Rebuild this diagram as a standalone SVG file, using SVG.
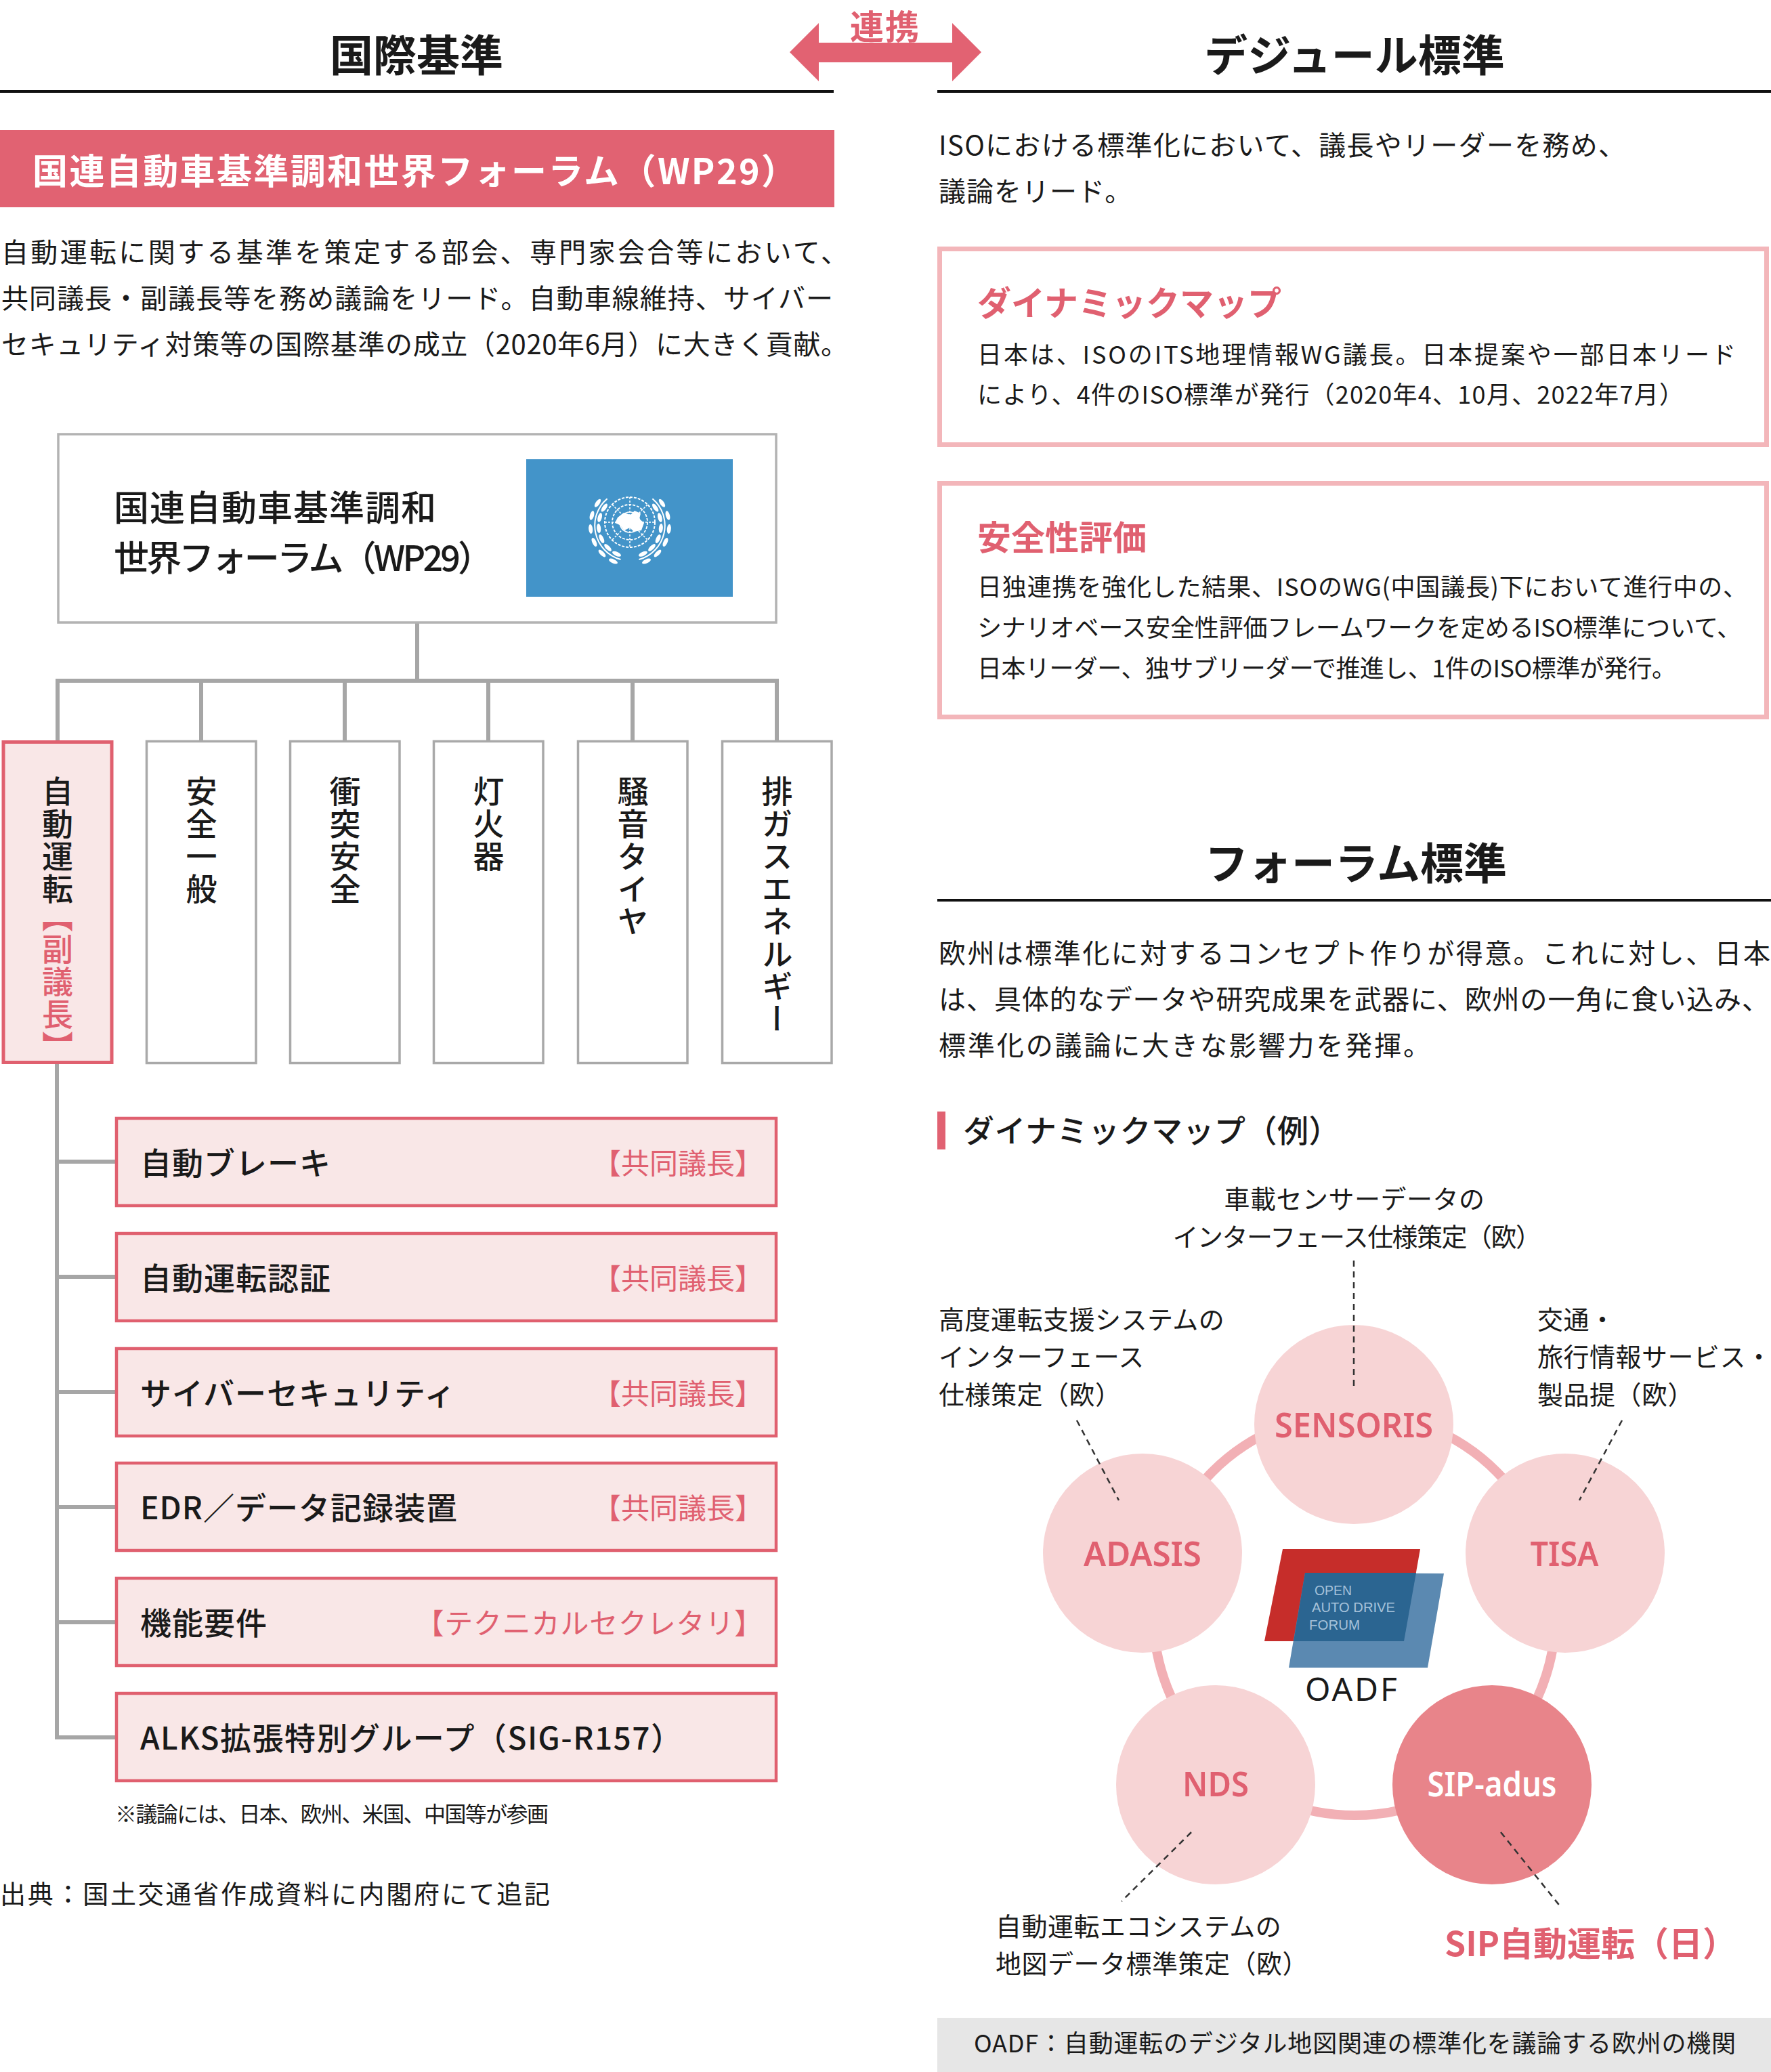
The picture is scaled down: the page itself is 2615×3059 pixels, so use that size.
<svg xmlns="http://www.w3.org/2000/svg" width="2615" height="3059" viewBox="0 0 2615 3059">
<style>
text { font-family: "Noto Sans CJK JP", "Noto Sans", sans-serif; fill: #1a1a1a; }
.h { font-size: 64px; font-weight: 700; text-anchor: middle; }
.p { font-size: 40px; }
.pk { fill: #e06070; }
.wt { fill: #ffffff; }
.b { font-weight: 700; }
.m { font-weight: 500; }
.v { writing-mode: vertical-rl; font-size: 46px; letter-spacing: 2px; font-weight: 500; }
.sub { fill: #f9e7e7; stroke: #e0606f; stroke-width: 4.5; }
.col { fill: #ffffff; stroke: #a9a9a9; stroke-width: 3.5; }
.lbl { font-size: 46px; font-weight: 500; }
.tag { font-size: 42px; text-anchor: end; fill: #e06070; }
.rbox { fill: none; stroke: #f3b6ba; stroke-width: 7; }
.bt { font-size: 36px; }
.ml { font-size: 38px; letter-spacing: 0.5px; }
.cir { fill: #f7d4d5; }
.cl { font-family: "Noto Sans", "Open Sans", sans-serif; font-size: 50px; font-weight: 600; text-anchor: middle; fill: #e06070; }
.conn { stroke: #a6a6a6; stroke-width: 6; fill: none; }
.dash { stroke: #333; stroke-width: 2.5; stroke-dasharray: 9 7; fill: none; }
.rule { stroke: #111; stroke-width: 4; }
.logo { fill: #a6c2da; font-family: "Liberation Sans", sans-serif; font-size: 20px; }
</style>

<!-- headings -->
<g id="heading-left">
  <text class="h" x="615" y="105">国際基準</text>
  <line class="rule" x1="0" y1="135" x2="1231" y2="135"/>
</g>
<g id="heading-right">
  <text class="h" x="2000" y="105">デジュール標準</text>
  <line class="rule" x1="1384" y1="135" x2="2615" y2="135"/>
</g>
<g id="renkei">
  <polygon fill="#e26272" points="1166,77 1209,34 1209,63 1406,63 1406,34 1449,77 1406,120 1406,92 1209,92 1209,120"/>
  <text x="1307" y="58" font-size="50" font-weight="700" text-anchor="middle" letter-spacing="2" class="pk">連携</text>
</g>

<!-- left: WP29 title bar -->
<g id="wp29-bar">
  <rect x="0" y="192" width="1232" height="114" fill="#e16272"/>
  <text class="wt b" x="48" y="272" font-size="52" textLength="1128">国連自動車基準調和世界フォーラム（WP29）</text>
</g>
<g id="left-para">
  <text class="p" x="2" y="387" textLength="1250">自動運転に関する基準を策定する部会、専門家会合等において、</text>
  <text class="p" x="2" y="455" textLength="1228">共同議長・副議長等を務め議論をリード。自動車線維持、サイバー</text>
  <text class="p" x="2" y="523" textLength="1250">セキュリティ対策等の国際基準の成立（2020年6月）に大きく貢献。</text>
</g>

<!-- connectors (tree) -->
<g id="connectors">
  <line class="conn" x1="616" y1="920" x2="616" y2="1005"/>
  <line class="conn" x1="82" y1="1005" x2="1150" y2="1005"/>
  <line class="conn" x1="85" y1="1005" x2="85" y2="1093"/>
  <line class="conn" x1="297" y1="1005" x2="297" y2="1093"/>
  <line class="conn" x1="509" y1="1005" x2="509" y2="1093"/>
  <line class="conn" x1="721" y1="1005" x2="721" y2="1093"/>
  <line class="conn" x1="934" y1="1005" x2="934" y2="1093"/>
  <line class="conn" x1="1147" y1="1005" x2="1147" y2="1093"/>
  <polyline class="conn" points="84,1571 84,2565 170,2565"/>
  <line class="conn" x1="84" y1="1715" x2="170" y2="1715"/>
  <line class="conn" x1="84" y1="1885" x2="170" y2="1885"/>
  <line class="conn" x1="84" y1="2055" x2="170" y2="2055"/>
  <line class="conn" x1="84" y1="2225" x2="170" y2="2225"/>
  <line class="conn" x1="84" y1="2395" x2="170" y2="2395"/>
</g>

<!-- WP29 node -->
<g id="node-wp29">
  <rect x="86" y="641" width="1060" height="278" fill="#fff" stroke="#b3b3b3" stroke-width="3.5"/>
  <text class="m" x="168" y="769" font-size="52" letter-spacing="1">国連自動車基準調和</text>
  <text class="m" x="168" y="843" font-size="52" textLength="560">世界フォーラム（WP29）</text>
  <rect x="777" y="678" width="305" height="203" fill="#4394c9"/>
  <g id="un-emblem" fill="none" stroke="#fff">
    <circle cx="930" cy="771" r="37" stroke-width="2" stroke-dasharray="4 2"/>
    <circle cx="930" cy="771" r="26" stroke-width="1.8" stroke-dasharray="4 2"/>
    <circle cx="930" cy="771" r="15" stroke-width="1.6"/>
    <path d="M930 734 V808 M893 771 H967 M904 745 L956 797 M956 745 L904 797" stroke-width="1.5" stroke-dasharray="3 2"/>
    <path fill="#fff" stroke="none" d="M912 764 l9 -7 l10 3 l6 -6 l9 4 l-2 8 l7 6 l-4 11 l-11 2 l-6 -6 l-8 4 l-7 -8 l-7 -3 z"/>
    <path d="M916.5 826 A52 52 0 0 1 896.6 736.2" stroke-width="2"/>
    <path d="M943.5 826 A52 52 0 0 0 963.4 736.2" stroke-width="2"/>
    <g fill="#fff" stroke="none">
      <ellipse cx="905.5" cy="828.6" rx="7" ry="3" transform="rotate(25 905.5 828.6)"/>
      <ellipse cx="910.5" cy="817.7" rx="7" ry="3" transform="rotate(25 910.5 817.7)"/>
      <ellipse cx="889" cy="817" rx="7" ry="3" transform="rotate(45 889 817)"/>
      <ellipse cx="897.5" cy="808.5" rx="7" ry="3" transform="rotate(45 897.5 808.5)"/>
      <ellipse cx="877.5" cy="800.5" rx="7" ry="3" transform="rotate(65 877.5 800.5)"/>
      <ellipse cx="888.3" cy="795.5" rx="7" ry="3" transform="rotate(65 888.3 795.5)"/>
      <ellipse cx="872.2" cy="781" rx="7" ry="3" transform="rotate(85 872.2 781)"/>
      <ellipse cx="884.2" cy="780" rx="7" ry="3" transform="rotate(85 884.2 780)"/>
      <ellipse cx="874" cy="761" rx="7" ry="3" transform="rotate(105 874 761)"/>
      <ellipse cx="885.6" cy="764.1" rx="7" ry="3" transform="rotate(105 885.6 764.1)"/>
      <ellipse cx="882.5" cy="742.7" rx="7" ry="3" transform="rotate(125 882.5 742.7)"/>
      <ellipse cx="892.3" cy="749.6" rx="7" ry="3" transform="rotate(125 892.3 749.6)"/>
      <ellipse cx="954.5" cy="828.6" rx="7" ry="3" transform="rotate(-25 954.5 828.6)"/>
      <ellipse cx="949.5" cy="817.7" rx="7" ry="3" transform="rotate(-25 949.5 817.7)"/>
      <ellipse cx="971" cy="817" rx="7" ry="3" transform="rotate(-45 971 817)"/>
      <ellipse cx="962.5" cy="808.5" rx="7" ry="3" transform="rotate(-45 962.5 808.5)"/>
      <ellipse cx="982.5" cy="800.5" rx="7" ry="3" transform="rotate(-65 982.5 800.5)"/>
      <ellipse cx="971.7" cy="795.5" rx="7" ry="3" transform="rotate(-65 971.7 795.5)"/>
      <ellipse cx="987.8" cy="781" rx="7" ry="3" transform="rotate(-85 987.8 781)"/>
      <ellipse cx="975.8" cy="780" rx="7" ry="3" transform="rotate(-85 975.8 780)"/>
      <ellipse cx="986" cy="761" rx="7" ry="3" transform="rotate(-105 986 761)"/>
      <ellipse cx="974.4" cy="764.1" rx="7" ry="3" transform="rotate(-105 974.4 764.1)"/>
      <ellipse cx="977.5" cy="742.7" rx="7" ry="3" transform="rotate(-125 977.5 742.7)"/>
      <ellipse cx="967.7" cy="749.6" rx="7" ry="3" transform="rotate(-125 967.7 749.6)"/>
    </g>
  </g>
</g>

<!-- working party columns -->
<g id="col-jidou">
  <rect x="5" y="1095.5" width="160" height="473" fill="#f9e7e7" stroke="#e0606f" stroke-width="5"/>
  <text class="v" x="85" y="1145">自動運転</text>
  <text class="v pk" x="85" y="1330" font-size="42" letter-spacing="1">【副議長】</text>
</g>
<g id="col-anzen">
  <rect class="col" x="216.5" y="1094.5" width="161.5" height="475"/>
  <text class="v" x="297.5" y="1145">安全一般</text>
</g>
<g id="col-shoutotsu">
  <rect class="col" x="428.5" y="1094.5" width="161.5" height="475"/>
  <text class="v" x="509.5" y="1145">衝突安全</text>
</g>
<g id="col-touka">
  <rect class="col" x="640.5" y="1094.5" width="161.5" height="475"/>
  <text class="v" x="721.5" y="1145">灯火器</text>
</g>
<g id="col-souon">
  <rect class="col" x="853.5" y="1094.5" width="161.5" height="475"/>
  <text class="v" x="934.5" y="1145">騒音タイヤ</text>
</g>
<g id="col-haigas">
  <rect class="col" x="1066.5" y="1094.5" width="161.5" height="475"/>
  <text class="v" x="1147.5" y="1145">排ガスエネルギー</text>
</g>

<!-- sub groups -->
<g id="sub-brake">
  <rect class="sub" x="172" y="1651" width="974" height="129"/>
  <text class="lbl" x="207" y="1734" letter-spacing="1">自動ブレーキ</text>
  <text class="tag" x="1127" y="1733">【共同議長】</text>
</g>
<g id="sub-ninsho">
  <rect class="sub" x="172" y="1821" width="974" height="129"/>
  <text class="lbl" x="207" y="1904" letter-spacing="1">自動運転認証</text>
  <text class="tag" x="1127" y="1903">【共同議長】</text>
</g>
<g id="sub-cyber">
  <rect class="sub" x="172" y="1991" width="974" height="129"/>
  <text class="lbl" x="207" y="2074" letter-spacing="1">サイバーセキュリティ</text>
  <text class="tag" x="1127" y="2073">【共同議長】</text>
</g>
<g id="sub-edr">
  <rect class="sub" x="172" y="2160" width="974" height="129"/>
  <text class="lbl" x="207" y="2243" letter-spacing="1">EDR／データ記録装置</text>
  <text class="tag" x="1127" y="2242">【共同議長】</text>
</g>
<g id="sub-kinou">
  <rect class="sub" x="172" y="2330" width="974" height="129"/>
  <text class="lbl" x="207" y="2413" letter-spacing="1">機能要件</text>
  <text class="tag" x="1127" y="2412" letter-spacing="0.8">【テクニカルセクレタリ】</text>
</g>
<g id="sub-alks">
  <rect class="sub" x="172" y="2500" width="974" height="129"/>
  <text class="lbl" x="207" y="2583" textLength="800">ALKS拡張特別グループ（SIG-R157）</text>
</g>
<g id="notes-left">
  <text x="170" y="2690" font-size="32" textLength="640">※議論には、日本、欧州、米国、中国等が参画</text>
  <text x="0" y="2810" font-size="38" textLength="812">出典：国土交通省作成資料に内閣府にて追記</text>
</g>

<!-- right: de jure -->
<g id="right-para">
  <text class="p" x="1386" y="229" textLength="1014">ISOにおける標準化において、議長やリーダーを務め、</text>
  <text class="p" x="1386" y="297" letter-spacing="1">議論をリード。</text>
</g>
<g id="box-dynamic-map">
  <rect class="rbox" x="1387.5" y="367.5" width="1221" height="289"/>
  <text class="pk b" x="1443" y="466" font-size="50">ダイナミックマップ</text>
  <text class="bt" x="1443" y="537" textLength="1120">日本は、ISOのITS地理情報WG議長。日本提案や一部日本リード</text>
  <text class="bt" x="1443" y="596" textLength="1043">により、4件のISO標準が発行（2020年4、10月、2022年7月）</text>
</g>
<g id="box-safety">
  <rect class="rbox" x="1387.5" y="713.5" width="1221" height="345"/>
  <text class="pk b" x="1443" y="812" font-size="50">安全性評価</text>
  <text class="bt" x="1443" y="880" textLength="1137">日独連携を強化した結果、ISOのWG(中国議長)下において進行中の、</text>
  <text class="bt" x="1443" y="940" textLength="1128">シナリオベース安全性評価フレームワークを定めるISO標準について、</text>
  <text class="bt" x="1443" y="1000" textLength="1032">日本リーダー、独サブリーダーで推進し、1件のISO標準が発行。</text>
</g>

<!-- right: forum standards -->
<g id="heading-forum">
  <text class="h" x="2002" y="1298">フォーラム標準</text>
  <line class="rule" x1="1384" y1="1329" x2="2615" y2="1329"/>
</g>
<g id="forum-para">
  <text class="p" x="1386" y="1422" textLength="1228">欧州は標準化に対するコンセプト作りが得意。これに対し、日本</text>
  <text class="p" x="1386" y="1490" textLength="1226">は、具体的なデータや研究成果を武器に、欧州の一角に食い込み、</text>
  <text class="p" x="1386" y="1558" textLength="726">標準化の議論に大きな影響力を発揮。</text>
</g>
<g id="dm-example-title">
  <rect x="1384" y="1641" width="12" height="56" fill="#e16272"/>
  <text x="1422" y="1686" font-size="46" font-weight="500" letter-spacing="0.5">ダイナミックマップ（例）</text>
</g>

<!-- ring behind circles -->
<g id="ring">
  <circle cx="2000" cy="2383" r="297" fill="none" stroke="#f2b0b5" stroke-width="14"/>
</g>

<g id="node-sensoris">
  <circle class="cir" cx="1999" cy="2103" r="147"/>
  <text class="cl" x="1999" y="2122" textLength="234" lengthAdjust="spacingAndGlyphs">SENSORIS</text>
</g>
<g id="node-adasis">
  <circle class="cir" cx="1687" cy="2293" r="147"/>
  <text class="cl" x="1687" y="2312" textLength="174" lengthAdjust="spacingAndGlyphs">ADASIS</text>
</g>
<g id="node-tisa">
  <circle class="cir" cx="2311" cy="2293" r="147"/>
  <text class="cl" x="2310" y="2312" textLength="101" lengthAdjust="spacingAndGlyphs">TISA</text>
</g>
<g id="node-nds">
  <circle class="cir" cx="1795" cy="2635" r="147"/>
  <text class="cl" x="1795" y="2652" textLength="98" lengthAdjust="spacingAndGlyphs">NDS</text>
</g>
<g id="node-sip-adus">
  <circle cx="2203" cy="2635" r="147" fill="#e8848a"/>
  <text class="cl" x="2203" y="2652" textLength="191" lengthAdjust="spacingAndGlyphs" style="fill:#ffffff">SIP-adus</text>
</g>

<g id="node-oadf">
  <polygon fill="#c62d2a" points="1894,2287 2097,2287 2073,2423 1867,2423"/>
  <polygon fill="#5b89b1" points="1927,2322 2132,2323 2108,2462 1903,2462"/>
  <polygon fill="#2b6591" points="1927,2322 2091,2322 2073,2423 1910,2423"/>
  <text class="logo" x="1941" y="2355" textLength="55" lengthAdjust="spacingAndGlyphs">OPEN</text>
  <text class="logo" x="1937" y="2380" textLength="123" lengthAdjust="spacingAndGlyphs">AUTO DRIVE</text>
  <text class="logo" x="1933" y="2406" textLength="75" lengthAdjust="spacingAndGlyphs">FORUM</text>
  <text x="1995" y="2511" font-size="48" text-anchor="middle" textLength="136" style="font-family:'Noto Sans',sans-serif">OADF</text>
</g>

<!-- dashed leader lines -->
<g id="leaders">
  <line class="dash" x1="1999" y1="1861" x2="1999" y2="2050"/>
  <line class="dash" x1="1590" y1="2097" x2="1652" y2="2215"/>
  <line class="dash" x1="2395" y1="2097" x2="2332" y2="2215"/>
  <line class="dash" x1="1759" y1="2705" x2="1656" y2="2807"/>
  <line class="dash" x1="2216" y1="2705" x2="2305" y2="2816"/>
</g>

<!-- leader labels -->
<g id="label-sensoris">
  <text class="ml" x="2000" y="1784" text-anchor="middle">車載センサーデータの</text>
  <text class="ml" x="2004" y="1840" text-anchor="middle" textLength="545">インターフェース仕様策定（欧）</text>
</g>
<g id="label-adasis">
  <text class="ml" x="1386" y="1962">高度運転支援システムの</text>
  <text class="ml" x="1386" y="2017">インターフェース</text>
  <text class="ml" x="1386" y="2073">仕様策定（欧）</text>
</g>
<g id="label-tisa">
  <text class="ml" x="2270" y="1962">交通・</text>
  <text class="ml" x="2270" y="2017">旅行情報サービス・</text>
  <text class="ml" x="2270" y="2073">製品提（欧）</text>
</g>
<g id="label-nds">
  <text class="ml" x="1470" y="2858">自動運転エコシステムの</text>
  <text class="ml" x="1470" y="2913">地図データ標準策定（欧）</text>
</g>
<g id="label-sip">
  <text class="pk b" x="2133" y="2888" font-size="50">SIP自動運転（日）</text>
</g>

<g id="footnote-oadf">
  <rect x="1384" y="2979" width="1231" height="80" fill="#e6e6e6"/>
  <text x="1438" y="3030" font-size="36" textLength="1125">OADF：自動運転のデジタル地図関連の標準化を議論する欧州の機関</text>
</g>
</svg>
